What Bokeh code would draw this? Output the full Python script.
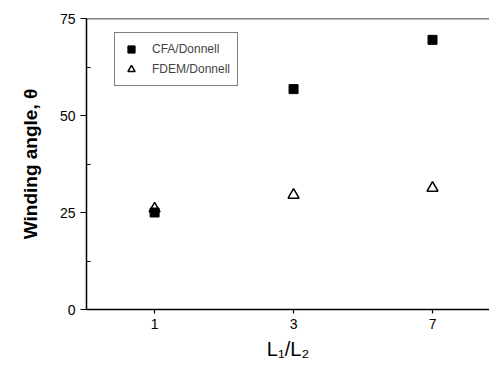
from bokeh.plotting import figure
from bokeh.models import Span, Legend, LegendItem, FixedTicker
from bokeh.embed import file_html
from bokeh.resources import INLINE

categories = ["1", "3", "7"]
cfa_values = [25.0, 56.8, 69.5]
fdem_values = [26.0, 29.5, 31.3]
y_ticks = [0, 25, 50, 75]

xs = list(range(len(categories)))

p = figure(width=489, height=362, output_backend="svg", toolbar_location=None,
           x_range=(-0.49, 2.41), y_range=(0, 75),
           min_border_left=86, min_border_top=18, min_border_right=0, min_border_bottom=10)
p.outline_line_color = None
p.xgrid.grid_line_color = None
p.ygrid.grid_line_color = None
p.background_fill_color = "white"
p.border_fill_color = "white"

r1 = p.scatter(xs, cfa_values, marker="square", size=9, fill_color="black", line_color="black")
r2 = p.scatter(xs, fdem_values, marker="triangle", size=11, fill_color=None, line_color="black", line_width=1.5)

p.add_layout(Span(location=75, dimension="width", line_color="black", line_width=1.5))

p.xaxis.ticker = FixedTicker(ticks=xs)
p.xaxis.major_label_overrides = {i: c for i, c in enumerate(categories)}
p.xaxis.minor_tick_line_color = None
p.xaxis.major_tick_out = 4
p.xaxis.major_tick_in = 0
p.xaxis.axis_label = "L\u2081/L\u2082"
p.xaxis.axis_label_text_font = "Liberation Sans"
p.xaxis.axis_label_text_font_style = "normal"
p.xaxis.axis_label_text_font_size = "20px"
p.xaxis.axis_label_standoff = 6

p.yaxis.ticker = FixedTicker(ticks=y_ticks, minor_ticks=[12.5, 37.5, 62.5])
p.yaxis.major_tick_out = 6
p.yaxis.major_tick_in = 0
p.yaxis.minor_tick_out = 0
p.yaxis.minor_tick_in = 4
p.yaxis.axis_label = "Winding angle, \u03b8"
p.yaxis.axis_label_text_font = "Liberation Sans"
p.yaxis.axis_label_text_font_style = "bold"
p.yaxis.axis_label_text_font_size = "19px"
p.yaxis.axis_label_standoff = 16

for ax in (p.xaxis, p.yaxis):
    ax.axis_line_color = "black"
    ax.axis_line_width = 1.5
    ax.major_tick_line_color = "black"
    ax.major_tick_line_width = 1.2
    ax.minor_tick_line_color = "black"
    ax.major_label_text_font = "Liberation Sans"
    ax.major_label_text_font_size = "14px"
    ax.major_label_text_color = "black"
    ax.axis_label_text_color = "black"

legend = Legend(items=[LegendItem(label="CFA/Donnell", renderers=[r1]),
                       LegendItem(label="FDEM/Donnell", renderers=[r2])],
                location=(28, 223))
legend.border_line_color = "black"
legend.border_line_width = 1
legend.label_text_font = "Liberation Sans"
legend.label_text_font_size = "12px"
legend.label_height = 18
legend.glyph_height = 18
legend.glyph_width = 18
legend.spacing = 2
legend.padding = 7
legend.margin = 0
legend.label_standoff = 12
p.add_layout(legend, "center")

open("out.html", "w").write(file_html(p, INLINE))
